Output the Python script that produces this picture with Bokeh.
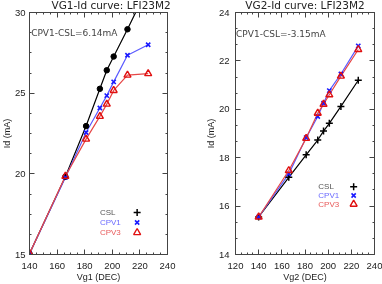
from bokeh.plotting import figure
from bokeh.layouts import row
from bokeh.models import (SingleIntervalTicker, LinearAxis, Label, Range1d,
                          CustomJSTickFormatter)
from bokeh.embed import file_html
from bokeh.resources import INLINE

# ---- data ----
vg1 = [140, 166, 181, 191, 196, 201, 211, 226]
id1_csl = [15.05, 19.82, 22.96, 25.27, 26.42, 27.27, 28.96, 31.6]
id1_cpv1 = [15.05, 19.78, 22.56, 24.08, 24.85, 25.70, 27.35, 28.00]
id1_cpv3 = [15.05, 19.85, 22.15, 23.56, 24.32, 25.17, 26.12, 26.21]

vg2 = [140, 166, 181, 191, 196, 201, 211, 226]
id2_csl = [15.55, 17.19, 18.12, 18.73, 19.10, 19.42, 20.12, 21.20]
id2_cpv1 = [15.55, 17.33, 18.83, 19.70, 20.25, 20.77, 21.46, 22.62]
id2_cpv3 = [15.55, 17.47, 18.80, 19.84, 20.21, 20.60, 21.37, 22.47]

titles = ["VG1-Id curve: LFI23M2", "VG2-Id curve: LFI23M2"]
xlabels = ["Vg1 (DEC)", "Vg2 (DEC)"]
notes = ["CPV1-CSL=6.14mA", "CPV1-CSL=-3.15mA"]
legend_names = ["CSL", "CPV1", "CPV3"]

FONT = "Liberation Sans"
TFONT = "DejaVu Sans"
AX = "#444444"
C_CSL, C_CPV1, C_CPV3 = "black", "#1a1aff", "#e01010"
L_CPV1, L_CPV3 = "#5a5aff", "#e64646"
T_CSL, T_CPV1, T_CPV3 = "#555555", "#6a6aff", "#e85a5a"
H = 286


def style_axis(ax, interval, minor, labels=True):
    ax.ticker = SingleIntervalTicker(interval=interval, num_minor_ticks=minor)
    ax.axis_line_color = AX
    ax.major_tick_line_color = AX
    ax.minor_tick_line_color = AX
    ax.major_tick_in = 5
    ax.major_tick_out = 0
    ax.minor_tick_in = 2
    ax.minor_tick_out = 0
    ax.major_label_text_font = FONT
    ax.major_label_text_font_size = "9.5px"
    ax.major_label_text_color = "#222222"
    ax.axis_label_text_font = FONT
    ax.axis_label_text_font_size = "9px"
    ax.axis_label_text_font_style = "normal"
    ax.axis_label_text_color = "#222222"
    if not labels:
        ax.formatter = CustomJSTickFormatter(code="return ''")
        ax.major_label_standoff = 0


def make_plot(w, x_rng, y_rng, xint, yint, yminor, bl, br, title, xlabel, note,
              xs, csl, cpv1, cpv3, csl_marker, leg, note_pos, ylab_std, t_align, t_off):
    p = figure(width=w, height=H, x_range=Range1d(*x_rng), y_range=Range1d(*y_rng),
               output_backend="svg", toolbar_location=None,
               min_border_left=bl, min_border_right=br, min_border_top=13,
               min_border_bottom=29)
    p.title.text = title
    p.title.align = t_align
    p.title.vertical_align = "top"
    p.title.offset = t_off
    p.title.text_font = TFONT
    p.title.text_font_size = "10.5px"
    p.title.text_font_style = "normal"
    p.title.text_color = "#222222"
    p.title.standoff = 0
    p.grid.visible = False
    p.outline_line_color = None
    p.background_fill_color = "white"
    p.border_fill_color = "white"

    style_axis(p.xaxis[0], xint, 4)
    style_axis(p.yaxis[0], yint, yminor)
    p.xaxis[0].axis_label = xlabel
    p.yaxis[0].axis_label = "Id (mA)"
    p.xaxis[0].major_label_standoff = 8
    p.yaxis[0].major_label_standoff = ylab_std
    p.xaxis[0].axis_label_standoff = 0
    p.yaxis[0].axis_label_standoff = 0

    top = LinearAxis()
    style_axis(top, xint, 4, labels=False)
    p.add_layout(top, "above")
    right = LinearAxis()
    style_axis(right, yint, yminor, labels=False)
    p.add_layout(right, "right")

    p.line(xs, csl, line_color=C_CSL, line_width=1.2)
    p.line(xs, cpv1, line_color=L_CPV1, line_width=1.2)
    p.line(xs, cpv3, line_color=L_CPV3, line_width=1.2)
    if csl_marker == "circle":
        p.scatter(xs, csl, marker="circle", size=5.5, fill_color=C_CSL, line_color=C_CSL)
    else:
        p.scatter(xs, csl, marker="cross", size=7, line_color=C_CSL, line_width=1.5)
    p.scatter(xs, cpv1, marker="x", size=6, line_color=C_CPV1, line_width=1.6)
    p.scatter(xs, cpv3, marker="triangle", size=7, fill_color=None,
              line_color=C_CPV3, line_width=1.4)

    p.add_layout(Label(x=note_pos[0], y=note_pos[1], text=note, text_font=TFONT,
                       text_font_size="9px", text_color="#444444",
                       text_baseline="middle"))

    # legend (text on the left, marker on the right)
    lx, mx, ly, dy = leg
    tcols = [T_CSL, T_CPV1, T_CPV3]
    for i, name in enumerate(legend_names):
        p.add_layout(Label(x=lx, y=ly - i * dy, text=name, text_font=FONT,
                           text_font_size="8px", text_color=tcols[i],
                           text_baseline="middle"))
    p.scatter([mx], [ly], marker="cross", size=7, line_color=C_CSL, line_width=1.5)
    p.scatter([mx], [ly - dy], marker="x", size=6, line_color=C_CPV1, line_width=1.6)
    p.scatter([mx], [ly - 2 * dy], marker="triangle", size=7, fill_color=None,
              line_color=C_CPV3, line_width=1.4)
    return p


p1 = make_plot(193, (140, 240), (15, 30), 20, 5, 4, 30, 24, titles[0], xlabels[0],
               notes[0], vg1, id1_csl, id1_cpv1, id1_cpv3, "circle",
               (191.0, 218, 17.6, 0.62), (141.2, 28.75), 4, "left", 22)
p2 = make_plot(191, (120, 240), (14, 24), 20, 2, 3, 44, 8, titles[1], xlabels[1],
               notes[1], vg2, id2_csl, id2_cpv1, id2_cpv3, "cross",
               (191.5, 222, 16.8, 0.36), (120.5, 23.1), 6, "center", 0)

layout = row(p1, p2, styles={"position": "fixed", "left": "-2px", "top": "-2px"})
open("out.html", "w").write(file_html(layout, INLINE))
